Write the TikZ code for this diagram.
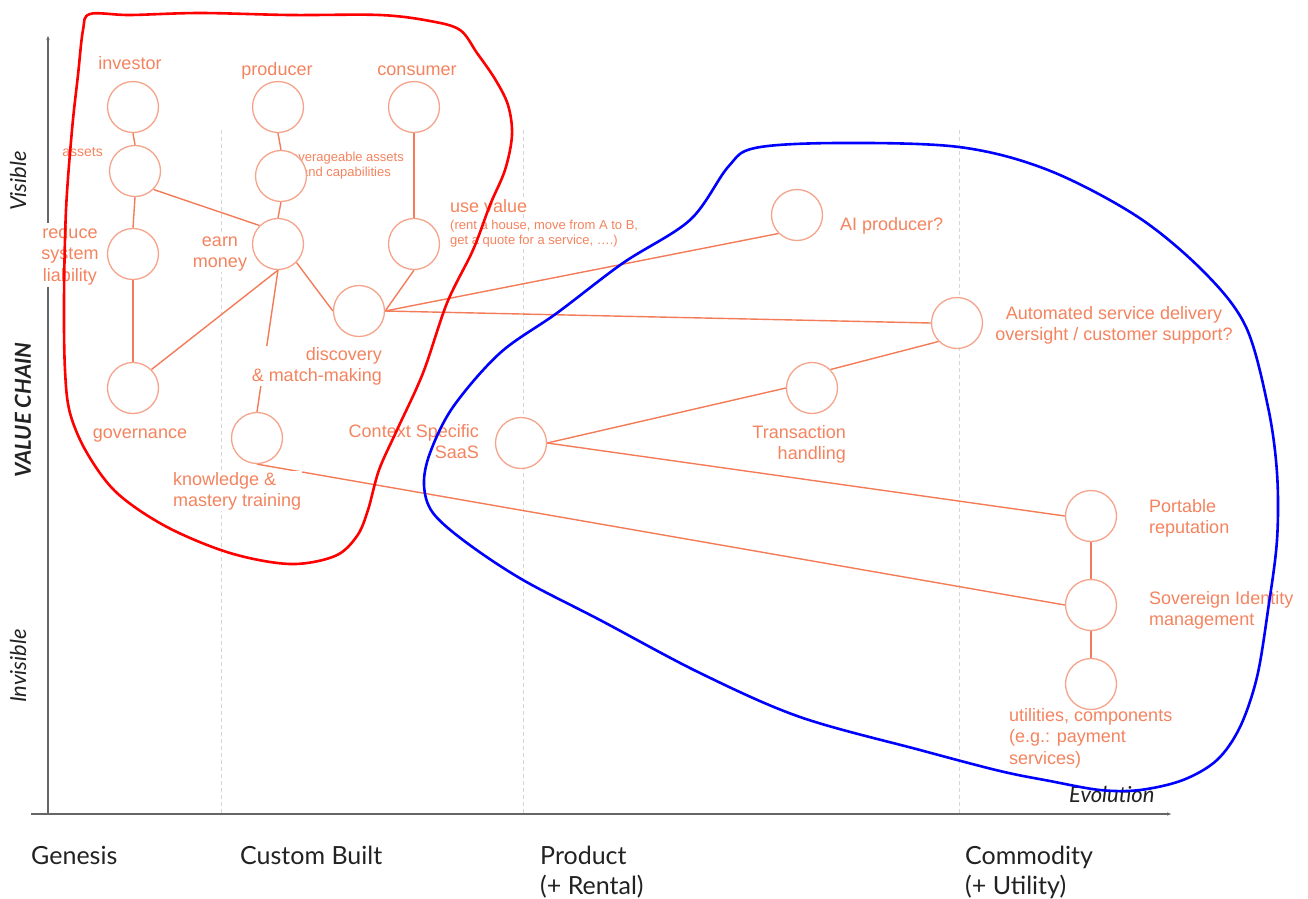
\documentclass[tikz,border=0pt]{standalone}
\usepackage{fontspec}
\setmainfont{Liberation Sans}
\newfontfamily\latofont{Lato}
\usetikzlibrary{arrows.meta}
\pgfdeclarelayer{grid}
\pgfdeclarelayer{edges}
\pgfdeclarelayer{front}
\pgfsetlayers{grid,edges,main,front}

\definecolor{txt}{HTML}{F4845F}
\definecolor{edge}{HTML}{F47B58}
\definecolor{circ}{HTML}{F5A48B}
\definecolor{axisgray}{HTML}{666666}
\definecolor{gridgray}{HTML}{D5D5D5}
\definecolor{stagetxt}{HTML}{222222}

\begin{document}
\begin{tikzpicture}[x=1pt,y=-1pt,
  stage/.style={circle, draw=circ, fill=white, line width=1.3pt, minimum size=51pt, inner sep=0pt},
  lbl/.style={text=txt, fill=white, font=\fontsize{18}{21.5}\selectfont, inner sep=1pt},
  small/.style={text=txt, fill=white, font=\fontsize{13}{15}\selectfont, inner sep=1pt},
  link/.style={draw=edge, line width=1.4pt},
  axisline/.style={draw=axisgray, line width=1.2pt},
  gridline/.style={draw=gridgray, line width=1pt, dash pattern=on 4pt off 3pt},
  stagelbl/.style={text=stagetxt, font=\latofont\fontsize{25}{30}\selectfont, inner sep=0pt},
  axislbl/.style={text=stagetxt, font=\latofont\itshape\fontsize{22}{26}\selectfont, inner sep=0pt},
  region/.style={line width=2.6pt, line join=round}
]
\useasboundingbox (0,0) rectangle (1308,898);

% ---- evolution axes and stage separators ----
\coordinate (yaxB) at (48,815);
\coordinate (yaxT) at (48,35);
\coordinate (xaxL) at (31,814);
\coordinate (xaxR) at (1172,814);
\coordinate (g1t) at (221,130); \coordinate (g1b) at (221,814);
\coordinate (g2t) at (523,130); \coordinate (g2b) at (523,814);
\coordinate (g3t) at (959,130); \coordinate (g3b) at (959,814);
\begin{pgfonlayer}{grid}
  \draw[gridline] (g1t) -- (g1b);
  \draw[gridline] (g2t) -- (g2b);
  \draw[gridline] (g3t) -- (g3b);
  \draw[axisline, -{Latex[length=5pt,width=3.5pt]}] (yaxB) -- (yaxT);
  \draw[axisline, -{Latex[length=5pt,width=3.5pt]}] (xaxL) -- (xaxR);
\end{pgfonlayer}

% ---- axis labels (multi-line nodes sit on the baseline of their last line) ----
\node[axislbl, rotate=90] (lVis) at (18,181) {Visible};
\node[text=stagetxt, font=\latofont\bfseries\itshape\fontsize{22}{26}\selectfont, inner sep=0pt, rotate=90] (lVC) at (23,410) {VALUE CHAIN};
\node[axislbl, rotate=90] (lInv) at (18,666) {Invisible};
\node[axislbl, anchor=base west] (lEvo) at (1069,802) {Evolution};
\node[stagelbl, anchor=base west] (sGen) at (31,864) {Genesis};
\node[stagelbl, anchor=base west] (sCus) at (240,864) {Custom Built};
\node[stagelbl, align=left, anchor=base west] (sPro) at (540,894) {Product\\(+ Rental)};
\node[stagelbl, align=left, anchor=base west] (sCom) at (965,894) {Commodity\\(+ Utility)};

% ---- component labels ----
\node[lbl, anchor=base] (tInv) at (130,69) {investor};
\node[lbl, anchor=base] (tPrd) at (277,75) {producer};
\node[lbl, anchor=base] (tCon) at (417,75) {consumer};
\node[text=txt, fill=white, inner sep=1pt, font=\fontsize{14}{16}\selectfont, anchor=base east] (tAst) at (104,156) {assets};
\node[small, align=center, anchor=base] (tLev) at (346,176) {leverageable assets\\and capabilities};
\node[lbl, align=center, anchor=base, inner sep=2pt] (tRed) at (70,281) {reduce\\system\\liability};
\node[lbl, align=center, anchor=base] (tEarn) at (220,267.5) {earn\\money};
\node[lbl, anchor=base] (tGov) at (140,438) {governance};
\node[lbl, align=right, anchor=base east] (tDisc) at (383,381.5) {discovery\\\& match-making};
\node[lbl, align=left, anchor=base west] (tKnow) at (172,506.5) {knowledge \&\\mastery training};
\node[lbl, align=right, anchor=base east] (tSaas) at (480,458.5) {Context Specific\\SaaS};
\node[lbl, anchor=base west] (tUse) at (449,212) {use value};
\node[small, align=left, anchor=base west] (tUseEx) at (449,244) {(rent a house, move from A to B,\\get a quote for a service, ….)};
\node[lbl, anchor=base west] (tAI) at (839,230) {AI producer?};
\node[lbl, align=center, anchor=base] (tAuto) at (1114,340.5) {Automated service delivery\\oversight / customer support?};
\node[lbl, align=right, anchor=base east] (tTrans) at (847,459.5) {Transaction\\handling};
\node[lbl, align=left, anchor=base west] (tPort) at (1148,533.5) {Portable\\reputation};
\node[lbl, align=left, anchor=base west] (tSov) at (1148,625.5) {Sovereign Identity\\management};
\node[lbl, align=left, anchor=base west] (tUtil) at (1008,764) {utilities, components\\(e.g.: payment\\services)};

% ---- components ----
\node[stage] (inv)   at (133,107) {};
\node[stage] (ast)   at (135,171) {};
\node[stage] (red)   at (133,254) {};
\node[stage] (gov)   at (133,388) {};
\node[stage] (prd)   at (278,107) {};
\node[stage] (lev)   at (281,176) {};
\node[stage] (earn)  at (278,244) {};
\node[stage] (know)  at (257,438) {};
\node[stage] (con)   at (414,107) {};
\node[stage] (use)   at (414,244) {};
\node[stage] (disc)  at (359,311) {};
\node[stage] (saas)  at (521,443) {};
\node[stage] (ai)    at (797,215) {};
\node[stage] (auto)  at (957,323) {};
\node[stage] (trans) at (812,388) {};
\node[stage] (port)  at (1091,516) {};
\node[stage] (sov)   at (1091,605) {};
\node[stage] (util)  at (1091,684) {};

% ---- dependencies ----
\begin{pgfonlayer}{edges}
  \draw[link] (inv.south) -- (ast.north);
  \draw[link] (ast.south) -- (red.north);
  \draw[link] (red.south) -- (gov.north);
  \draw[link] (ast.south east) -- (earn.north west);
  \draw[link] (prd.south) -- (lev.north);
  \draw[link] (lev.south) -- (earn.north);
  \draw[link] (earn.south) -- (gov.north east);
  \draw[link] (earn.south) -- (know.north);
  \draw[link] (earn.south east) -- (disc.west);
  \draw[link] (con.south) -- (use.north);
  \draw[link] (use.south) -- (disc.east);
  \draw[link] (disc.east) -- (ai.south west);
  \draw[link] (disc.east) -- (auto.west);
  \draw[link] (saas.east) -- (trans.west);
  \draw[link] (trans.north east) -- (auto.south west);
  \draw[link] (saas.east) -- (port.west);
  \draw[link] (know.south) -- (sov.west);
  \draw[link] (port.south) -- (sov.north);
  \draw[link] (sov.south) -- (util.north);
\end{pgfonlayer}

% ---- grouping outlines ----
\begin{pgfonlayer}{front}
  \draw[region, red] plot[smooth cycle, tension=0.55] coordinates {
    (90,14) (130,15) (200,13) (290,15) (380,15) (430,21) (460,30)
    (477,53) (495,79) (508,105) (512,135) (505,170) (490,205)
    (473,250) (447,303) (423,373) (397,430) (379,470) (368,510)
    (357,536) (335,556) (290,564) (230,553) (167,527) (117,493)
    (87,453) (70,413) (65,370) (64,300) (66,210) (72,130) (78,75) (83,30)};
  \draw[region, blue] plot[smooth cycle, tension=0.55] coordinates {
    (755,148) (838,143) (959,147) (1048,170) (1138,217) (1205,273)
    (1246,327) (1268,407) (1277,473) (1277,540) (1268,610) (1257,677)
    (1240,727) (1217,760) (1183,780) (1140,790) (1100,790) (1050,781)
    (1000,771) (920,750) (800,717) (700,673) (600,620) (523,580)
    (467,543) (433,513) (424,485) (430,453) (453,407) (500,353)
    (557,313) (623,263) (690,220) (728,167)};
\end{pgfonlayer}
\end{tikzpicture}
\end{document}
